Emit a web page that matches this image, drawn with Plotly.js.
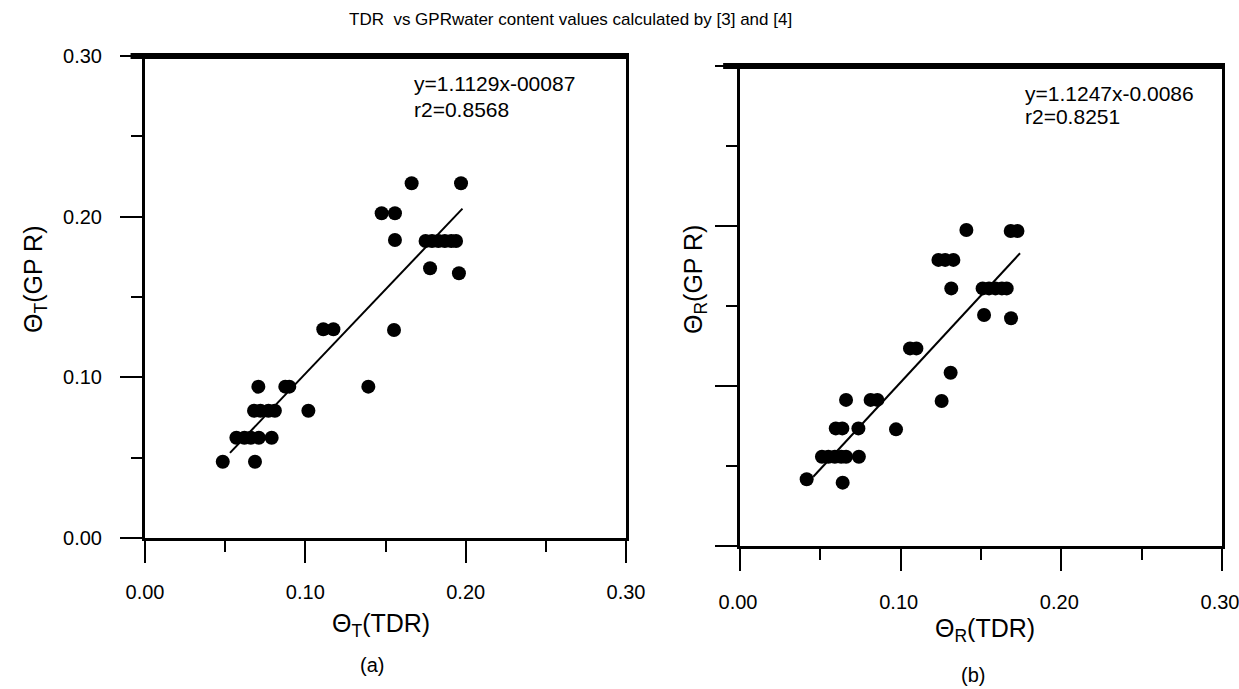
<!DOCTYPE html>
<html>
<head>
<meta charset="utf-8">
<script src="https://cdn.plot.ly/plotly-3.0.1.min.js"></script>
<style>html,body{margin:0;padding:0;background:#fff;}#chart{width:1239px;height:689px;}</style>
</head>
<body>
<div id="chart"></div>
<script>
// ---- data ----
const chartTitle = "TDR  vs GPRwater content values calculated by [3] and [4]";

// panel (a): Theta_T
const aX = [0.0485, 0.0686,
            0.057, 0.062, 0.066, 0.071, 0.079,
            0.068, 0.072, 0.077, 0.081,
            0.1019,
            0.0707,
            0.0875, 0.090,
            0.1393,
            0.1112, 0.1175,
            0.1553,
            0.1476, 0.1559,
            0.1559,
            0.175, 0.179, 0.183, 0.187, 0.191, 0.194,
            0.1778,
            0.1958,
            0.1663,
            0.1971];
const aY = [0.0475, 0.0475,
            0.0624, 0.0624, 0.0624, 0.0624, 0.0624,
            0.0792, 0.0792, 0.0792, 0.0792,
            0.0792,
            0.0942,
            0.0942, 0.0942,
            0.0942,
            0.1299, 0.1299,
            0.1295,
            0.2021, 0.2021,
            0.1855,
            0.1849, 0.1849, 0.1849, 0.1849, 0.1849, 0.1849,
            0.1679,
            0.1648,
            0.2208,
            0.2208];
const aFitX = [0.053, 0.198];
const aFitY = [0.053, 0.205];
const aEq = "y=1.1129x-00087";
const aR2 = "r2=0.8568";

// panel (b): Theta_R
const bX = [0.0415, 0.0639,
            0.051, 0.055, 0.059, 0.063, 0.066, 0.074,
            0.0596, 0.0637, 0.0737,
            0.0971,
            0.066,
            0.0813, 0.0855,
            0.1255,
            0.1311,
            0.1058, 0.1098,
            0.1235, 0.1277, 0.1328,
            0.1315,
            0.151, 0.155, 0.159, 0.163, 0.166,
            0.1519,
            0.1687,
            0.1409,
            0.1685, 0.1727];
const bY = [0.0417, 0.0396,
            0.0558, 0.0558, 0.0558, 0.0558, 0.0558, 0.0558,
            0.0735, 0.0735, 0.0735,
            0.0729,
            0.0913,
            0.0913, 0.0913,
            0.0906,
            0.1083,
            0.1235, 0.1235,
            0.1788, 0.1788, 0.1788,
            0.161,
            0.161, 0.161, 0.161, 0.161, 0.161,
            0.1444,
            0.1423,
            0.1975,
            0.1969, 0.1969];
const bFitX = [0.0456, 0.1743];
const bFitY = [0.0433, 0.183];
const bEq = "y=1.1247x-0.0086";
const bR2 = "r2=0.8251";

const majorTicks = [0, 0.1, 0.2, 0.3];
const majorLabels = ["0.00", "0.10", "0.20", "0.30"];
const minorTicks = [0.05, 0.15, 0.25];

const xTitleA = "Θ<sub>T</sub>(TDR)";
const yTitleA = "Θ<sub>T</sub>(GP R)";
const xTitleB = "Θ<sub>R</sub>(TDR)";
const yTitleB = "Θ<sub>R</sub>(GP R)";
const panelA = "(a)";
const panelB = "(b)";

// ---- styling ----
const NARROW = "'Liberation Sans Narrow', 'Arial Narrow', 'Liberation Sans', Arial, sans-serif";
const SANS = "'Liberation Sans', Arial, sans-serif";

function axisBase(extra) {
  return Object.assign({
    range: [0, 0.3],
    tickmode: 'array', tickvals: majorTicks, ticktext: majorLabels,
    ticks: 'outside', ticklen: 22, tickwidth: 2, tickcolor: '#000',
    minor: {tickmode: 'array', tickvals: minorTicks, ticks: 'outside', ticklen: 11, tickwidth: 2, tickcolor: '#000'},
    showline: true, linewidth: 3, linecolor: '#000', mirror: true,
    showgrid: false, zeroline: false, fixedrange: true,
    ticklabeloverflow: 'allow',
    tickfont: {family: NARROW, size: 20, color: '#000'}
  }, extra);
}

const W = 1239, H = 689;
const px = v => v / W, py = v => 1 - v / H;

const scatterStyle = {mode: 'markers', type: 'scatter', marker: {color: '#000', size: 14}, hoverinfo: 'skip'};
const lineStyle = {mode: 'lines', type: 'scatter', line: {color: '#000', width: 2}, hoverinfo: 'skip'};

const data = [
  Object.assign({x: aX, y: aY, xaxis: 'x', yaxis: 'y'}, scatterStyle),
  Object.assign({x: aFitX, y: aFitY, xaxis: 'x', yaxis: 'y'}, lineStyle),
  Object.assign({x: bX, y: bY, xaxis: 'x2', yaxis: 'y2'}, scatterStyle),
  Object.assign({x: bFitX, y: bFitY, xaxis: 'x2', yaxis: 'y2'}, lineStyle)
];

function ann(text, x, y, size, opts) {
  return Object.assign({text: text, x: px(x), y: py(y), xref: 'paper', yref: 'paper',
    showarrow: false, xanchor: 'center', yanchor: 'middle',
    font: {family: SANS, size: size, color: '#000'}}, opts || {});
}

const layout = {
  width: W, height: H,
  margin: {l: 0, r: 0, t: 0, b: 0},
  paper_bgcolor: '#fff', plot_bgcolor: '#fff',
  showlegend: false,
  xaxis: axisBase({domain: [px(145), px(626)], anchor: 'y', ticklabelstandoff: 12}),
  yaxis: axisBase({domain: [py(538), py(56)], anchor: 'x', ticklabelstandoff: 14}),
  xaxis2: axisBase({domain: [px(740), px(1222)], anchor: 'y2', ticklabelstandoff: 14, ticklabelshift: -2}),
  yaxis2: axisBase({domain: [py(546), py(66)], anchor: 'x2', showticklabels: false}),
  shapes: [
    {type: 'line', xref: 'x domain', yref: 'y domain', x0: -0.03, x1: 1.0, y0: 1, y1: 1, line: {color: '#000', width: 6}},
    {type: 'line', xref: 'x2 domain', yref: 'y2 domain', x0: -0.035, x1: 1.0, y0: 1, y1: 1, line: {color: '#000', width: 6}}
  ],
  annotations: [
    ann(chartTitle, 570, 20, 17, {font: {family: NARROW, size: 17, color: '#000'}}),
    ann(aEq, 412, 83, 21, {xanchor: 'left'}),
    ann(aR2, 412, 109, 21, {xanchor: 'left'}),
    ann(bEq, 1023, 93, 21, {xanchor: 'left'}),
    ann(bR2, 1023, 116, 21, {xanchor: 'left'}),
    ann(xTitleA, 381, 625, 25),
    ann(xTitleB, 985, 630, 25),
    ann(yTitleA, 35, 280, 25, {textangle: -90}),
    ann(yTitleB, 695, 280, 25, {textangle: -90}),
    ann(panelA, 372, 665, 20),
    ann(panelB, 973, 675, 20)
  ]
};

Plotly.newPlot('chart', data, layout, {staticPlot: true, displayModeBar: false});
</script>
</body>
</html>
